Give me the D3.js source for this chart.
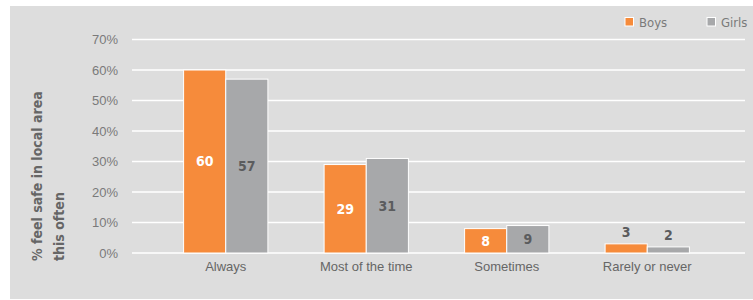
<!DOCTYPE html>
<html>
<head>
<meta charset="utf-8">
<script src="https://cdn.jsdelivr.net/npm/d3@7"></script>
<style>
  body { margin: 0; background: #fff; }
  svg { display: block; font-family: "Liberation Sans Narrow", "DejaVu Sans Condensed", "Roboto", sans-serif; }
</style>
</head>
<body>
<div class="chart"></div>
<script>
// Data
const categories = ["Always", "Most of the time", "Sometimes", "Rarely or never"];
const seriesNames = ["Boys", "Girls"];
const boys = [60, 29, 8, 3];
const girls = [57, 31, 9, 2];
const yTicks = [0, 10, 20, 30, 40, 50, 60, 70];

const width = 753, height = 300;
const colors = {Boys: "#f68b3b", Girls: "#a7a8aa"};
const labelColors = {Boys: "#ffffff", Girls: "#5b5c5e"};

const svg = d3.select("body").select(".chart").append("svg")
  .attr("width", width)
  .attr("height", height);

// gray panel
svg.append("rect")
  .attr("x", 10).attr("y", 6)
  .attr("width", width - 10).attr("height", 293)
  .attr("fill", "#dddddd");

// scales
const yScale = d3.scaleLinear().domain([0, 70]).range([253, 39.5]);
const xScale = d3.scaleBand().domain(categories)
  .range([155.5, 717.5]).paddingInner(0.4).paddingOuter(0.2);
const xInner = d3.scaleBand().domain(seriesNames).range([0, xScale.bandwidth()]);

// gridlines
const grid = svg.append("g").attr("class", "grid");
grid.selectAll("line").data(yTicks).enter()
  .append("line")
  .attr("x1", 132).attr("x2", 745)
  .attr("y1", d => yScale(d)).attr("y2", d => yScale(d))
  .attr("stroke", "#ffffff")
  .attr("stroke-width", 1.3);

// y axis labels
const yAxis = d3.axisLeft(yScale).tickValues(yTicks).tickFormat(d => d + "%").tickSize(0).tickPadding(0);
const gY = svg.append("g").attr("transform", "translate(118,0)").call(yAxis);
gY.select(".domain").remove();
gY.selectAll("text").attr("fill", "#7a7a7a").style("font-size", "13px").style("font-family", null);

// x axis labels
const xAxis = d3.axisBottom(xScale).tickSize(0).tickPadding(0);
const gX = svg.append("g").attr("transform", "translate(0,262)").call(xAxis);
gX.select(".domain").remove();
gX.selectAll("text").attr("fill", "#666666").style("font-size", "13px").style("font-family", null);

// bars
const rows = categories.map((c, i) => ({cat: c, values: [
  {name: "Boys", value: boys[i]},
  {name: "Girls", value: girls[i]}
]}));

const groups = svg.selectAll(".group").data(rows).enter()
  .append("g")
  .attr("class", "group")
  .attr("transform", d => `translate(${xScale(d.cat)},0)`);

groups.selectAll("rect").data(d => d.values).enter()
  .append("rect")
  .attr("x", d => xInner(d.name))
  .attr("y", d => yScale(d.value))
  .attr("width", xInner.bandwidth())
  .attr("height", d => yScale(0) - yScale(d.value))
  .attr("fill", d => colors[d.name])
  .attr("stroke", "#ffffff")
  .attr("stroke-width", 1);

groups.selectAll(".val").data(d => d.values).enter()
  .append("text")
  .attr("class", "val")
  .attr("x", d => xInner(d.name) + xInner.bandwidth() / 2)
  .attr("y", d => {
    const h = yScale(0) - yScale(d.value);
    return h < 20 ? yScale(d.value) - 12 : yScale(d.value) + h / 2;
  })
  .attr("dy", "0.35em")
  .attr("text-anchor", "middle")
  .attr("font-weight", "bold")
  .attr("font-size", "14px")
  .attr("fill", d => (yScale(0) - yScale(d.value)) < 20 ? "#5b5c5e" : labelColors[d.name])
  .text(d => d.value);

// legend
const legend = svg.append("g").attr("class", "legend");
const legendX = [625, 707];
seriesNames.forEach((s, i) => {
  legend.append("rect")
    .attr("x", legendX[i]).attr("y", 17.5)
    .attr("width", 8.5).attr("height", 8.5)
    .attr("fill", colors[s])
    .attr("stroke", "#ffffff").attr("stroke-width", 1);
  legend.append("text")
    .attr("x", legendX[i] + 14).attr("y", 22)
    .attr("dy", "0.35em")
    .attr("fill", "#7a7a7a")
    .attr("font-size", "13px")
    .text(s);
});

// y title
const title = svg.append("text")
  .attr("transform", "translate(0,261) rotate(-90)")
  .attr("font-weight", "bold")
  .attr("font-size", "14px")
  .attr("fill", "#666666");
title.append("tspan").attr("x", 0).attr("y", 42).text("% feel safe in local area");
title.append("tspan").attr("x", 0).attr("y", 64).text("this often");
</script>
</body>
</html>
